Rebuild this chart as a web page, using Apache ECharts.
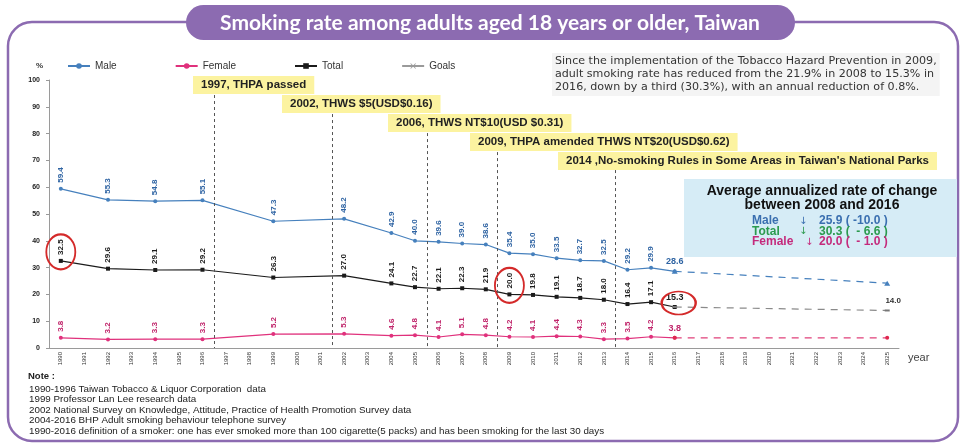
<!DOCTYPE html>
<html>
<head>
<meta charset="utf-8">
<script src="https://cdn.jsdelivr.net/npm/echarts@6/dist/echarts.min.js"></script>
<style>
  html, body { margin: 0; padding: 0; background: #fff; }
  #chart { width: 967px; height: 447px; }
</style>
</head>
<body>
<div id="chart"></div>
<script>
// Year categories on the x axis
const years = ['1990','1991','1992','1993','1994','1995','1996','1997','1998','1999',
  '2000','2001','2002','2003','2004','2005','2006','2007','2008','2009',
  '2010','2011','2012','2013','2014','2015','2016','2017','2018','2019',
  '2020','2021','2022','2023','2024','2025'];

// Survey years and observed smoking rates (%)
const surveyYears = ['1990','1992','1994','1996','1999','2002','2004','2005','2006','2007',
  '2008','2009','2010','2011','2012','2013','2014','2015','2016'];
const maleRate   = [59.4, 55.3, 54.8, 55.1, 47.3, 48.2, 42.9, 40.0, 39.6, 39.0,
  38.6, 35.4, 35.0, 33.5, 32.7, 32.5, 29.2, 29.9, 28.6];
const femaleRate = [3.8, 3.2, 3.3, 3.3, 5.2, 5.3, 4.6, 4.8, 4.1, 5.1,
  4.8, 4.2, 4.1, 4.4, 4.3, 3.3, 3.5, 4.2, 3.8];
const totalRate  = [32.5, 29.6, 29.1, 29.2, 26.3, 27.0, 24.1, 22.7, 22.1, 22.3,
  21.9, 20.0, 19.8, 19.1, 18.7, 18.0, 16.4, 17.1, 15.3];

// 2025 goals, drawn from the last survey year
const goalYears  = ['2016', '2025'];
const maleGoal   = [28.6, 24.2];
const totalGoal  = [15.3, 14.0];
const femaleGoal = [3.8, 3.8];

// Policy milestones (year the change took effect)
const eventYears = ['1997', '2002', '2006', '2009', '2014'];
const eventTexts = ['1997, THPA passed', '2002, THWS $5(USD$0.16)', '2006, THWS NT$10(USD $0.31)',
  '2009, THPA amended THWS NT$20(USD$0.62)', "2014 ,No-smoking Rules in Some Areas in Taiwan's National Parks"];
const eventLineTop = [94.4, 87.3, 80.2, 73.1, 66.4];

// Highlighted points on the total line
const circledYears = ['1990', '2009', '2016'];

const yTicks = [0, 10, 20, 30, 40, 50, 60, 70, 80, 90, 100];

const noteLines = [
  '1990-1996 Taiwan Tobacco & Liquor Corporation  data',
  '1999 Professor Lan Lee research data',
  '2002 National Survey on Knowledge, Attitude, Practice of Health Promotion Survey data',
  '2004-2016 BHP Adult smoking behaviour telephone survey',
  '1990-2016 definition of a smoker: one has ever smoked more than 100 cigarette(5 packs) and has been smoking for the last 30 days'
];

const COLORS = { male: '#4680bd', maleText: '#2f64a3', female: '#e0317c', femaleText: '#c0246a', total: '#1b1b1b', goal: '#9a9a9a' };
const PURPLE = '#8c6bb1';
const LABEL_FONT = '"Liberation Sans Narrow", "Liberation Sans", Arial, sans-serif';
const fmt1 = p => Number(p.value[1]).toFixed(1);

function seriesData(values, textColor) {
  return surveyYears.map((y, i) => {
    const item = { value: [y, values[i]] };
    if (y === '2016') {
      item.label = { rotate: 0, align: 'center', verticalAlign: 'bottom', distance: 3, fontSize: 9, color: textColor };
    }
    return item;
  });
}

function rotatedLabel(color) {
  return {
    show: true, rotate: 90, position: 'top', align: 'left', verticalAlign: 'middle',
    distance: 4, fontSize: 8, fontWeight: 'bold', color: color, fontFamily: LABEL_FONT,
    formatter: fmt1
  };
}

const crossIcon = 'path://M1,0L5,4L9,0L10,1L6,5L10,9L9,10L5,6L1,10L0,9L4,5L0,1Z';
const SANS = '"Liberation Sans", Arial, sans-serif';

const chart = echarts.init(document.getElementById('chart'), null, { renderer: 'canvas' });

const option = {
  backgroundColor: '#ffffff',
  animation: false,
  legend: {
    left: 62, top: 56, itemWidth: 22, itemHeight: 7, itemGap: 58,
    textStyle: { fontSize: 10, color: '#333', fontFamily: SANS },
    data: ['Male', 'Female', 'Total', 'Goals']
  },
  grid: { left: 49, right: 68, top: 80, bottom: 99, containLabel: false },
  xAxis: [{
    type: 'category', data: years, boundaryGap: true,
    name: 'year', nameLocation: 'end', nameGap: 9,
    nameTextStyle: { fontSize: 11, color: '#444', verticalAlign: 'top', padding: [4, 0, 0, 0] },
    axisLine: { lineStyle: { color: '#9a9a9a' } },
    axisTick: { length: 3, lineStyle: { color: '#9a9a9a' } },
    axisLabel: { rotate: 90, fontSize: 6, color: '#333', margin: 4, interval: 0 }
  }, {
    // helper axis for milestone lines on category boundaries
    type: 'value', min: 0, max: 36, show: false
  }],
  yAxis: {
    type: 'value', min: 0, max: 100, interval: 10,
    name: '%', nameLocation: 'end', nameGap: 10,
    nameTextStyle: { fontSize: 8, fontWeight: 'bold', color: '#333', align: 'right', padding: [0, 6, 0, 0] },
    axisLine: { show: true, lineStyle: { color: '#9a9a9a' } },
    axisTick: { show: true, length: 3, lineStyle: { color: '#9a9a9a' } },
    splitLine: { show: false },
    axisLabel: { fontSize: 7, fontWeight: 'bold', color: '#222', margin: 9,
      formatter: v => (yTicks.indexOf(v) >= 0 ? String(v) : '') }
  },
  series: [
    {
      name: 'Male', type: 'line', data: seriesData(maleRate, COLORS.maleText),
      symbol: 'circle', symbolSize: 4, z: 3,
      itemStyle: { color: COLORS.male }, lineStyle: { color: COLORS.male, width: 1.2 },
      label: rotatedLabel(COLORS.maleText)
    },
    {
      name: 'Female', type: 'line', data: seriesData(femaleRate, COLORS.femaleText),
      symbol: 'circle', symbolSize: 4, z: 3,
      itemStyle: { color: COLORS.female }, lineStyle: { color: COLORS.female, width: 1.2 },
      label: rotatedLabel(COLORS.femaleText)
    },
    {
      name: 'Total', type: 'line', data: seriesData(totalRate, COLORS.total),
      symbol: 'rect', symbolSize: 4, z: 3,
      itemStyle: { color: COLORS.total }, lineStyle: { color: COLORS.total, width: 1.2 },
      label: rotatedLabel(COLORS.total),
      markPoint: {
        symbol: 'circle', silent: true,
        itemStyle: { color: 'rgba(0,0,0,0)', borderColor: '#d42a2a', borderWidth: 2 },
        label: { show: false },
        data: circledYears.map(y => {
          const v = totalRate[surveyYears.indexOf(y)];
          return y === '2016'
            ? { coord: [y, v], symbolSize: [34, 23], symbolOffset: [4, -4] }
            : { coord: [y, v], symbolSize: [29, 35], symbolOffset: [0, -9] };
        })
      }
    },
    {
      // legend entry for the goal lines
      name: 'Goals', type: 'line', data: [], symbol: crossIcon, symbolSize: 7,
      itemStyle: { color: COLORS.goal }, lineStyle: { color: COLORS.goal, width: 1.2 }
    },
    {
      name: 'Goals', type: 'line', data: goalYears.map((y, i) => [y, maleGoal[i]]),
      symbol: 'triangle', symbolSize: [6, 5], showSymbol: true,
      itemStyle: { color: COLORS.male },
      lineStyle: { color: COLORS.male, width: 1.2, type: [7, 6] }
    },
    {
      name: 'Goals', type: 'line', data: goalYears.map((y, i) => [y, totalGoal[i]]),
      symbol: 'rect', symbolSize: [5, 2],
      itemStyle: { color: '#777' },
      lineStyle: { color: '#8a8a8a', width: 1.2, type: [7, 6] },
      label: {
        show: true, position: 'top', distance: 5, offset: [6, 0], fontSize: 8, fontWeight: 'bold', color: '#333',
        formatter: p => (p.dataIndex === goalYears.length - 1 ? fmt1(p) : '')
      }
    },
    {
      name: 'Goals', type: 'line', data: goalYears.map((y, i) => [y, femaleGoal[i]]),
      symbol: 'circle', symbolSize: 4,
      itemStyle: { color: '#e0284f' },
      lineStyle: { color: '#e0407a', width: 1.2, type: [7, 6] }
    },
    {
      // milestone markers, placed on the boundary before each year
      type: 'line', xAxisIndex: 1, data: [[0, null]], symbol: 'none', silent: true,
      markLine: {
        symbol: 'none', silent: true, label: { show: false },
        lineStyle: { color: '#555', width: 1, type: [3, 3] },
        data: eventYears.map((y, i) => [
          { coord: [years.indexOf(y), eventLineTop[i]] },
          { coord: [years.indexOf(y), 0] }
        ])
      }
    }
  ],
  graphic: {
    elements: [
      { type: 'rect', z: -10, shape: { x: 8, y: 22, width: 950, height: 419, r: 24 },
        style: { fill: '#fff', stroke: PURPLE, lineWidth: 2.5 } },
      { type: 'rect', z: 10, shape: { x: 186, y: 5, width: 609, height: 35, r: 17.5 },
        style: { fill: PURPLE } },
      { type: 'text', z: 11, x: 490, y: 23,
        style: { text: 'Smoking rate among adults aged 18 years or older, Taiwan', fill: '#fff',
          font: 'bold 21px Lato, "Open Sans", sans-serif', textAlign: 'center', textVerticalAlign: 'middle' } },
      { type: 'text', z: 10, x: 552, y: 53,
        style: { text: 'Since the implementation of the Tobacco Hazard Prevention in 2009,\nadult smoking rate has reduced from the 21.9% in 2008 to 15.3% in\n2016, down by a third (30.3%), with an annual reduction of 0.8%.',
          fill: '#333', font: '11.1px "DejaVu Sans", sans-serif', lineHeight: 13,
          backgroundColor: '#f4f4f4', padding: [2, 3] } },
      ...eventTexts.map((t, i) => ({
        type: 'text', z: 10,
        x: [193, 282, 388, 470, 558][i], y: [76, 95, 114, 133, 152][i],
        style: { text: t, fill: '#222', font: 'bold 11.5px ' + SANS,
          backgroundColor: '#fcf3a0', padding: [3, 8] }
      })),
      { type: 'rect', z: 10, shape: { x: 684, y: 179, width: 273, height: 78 },
        style: { fill: '#d6ecf6' } },
      { type: 'text', z: 11, x: 822, y: 198,
        style: { text: 'Average annualized rate of change\nbetween 2008 and 2016', fill: '#111',
          font: 'bold 14px ' + SANS, lineHeight: 14,
          textAlign: 'center', textVerticalAlign: 'middle' } },
      ...[
        ['Male', '25.9 ( -10.0 )', '#3a6fb0', 799],
        ['Total', '30.3 (  - 6.6 )', '#2b9a4e', 799],
        ['Female', '20.0 (  - 1.0 )', '#c42a7c', 805]
      ].flatMap((r, i) => [
        { type: 'text', z: 11, x: 752, y: 221 + i * 10.5,
          style: { text: r[0], fill: r[2], font: 'bold 12px ' + SANS, textVerticalAlign: 'middle' } },
        { type: 'text', z: 11, x: r[3], y: 221 + i * 10.5,
          style: { text: '\u2193', fill: r[2], font: '10px "DejaVu Sans", sans-serif', textVerticalAlign: 'middle' } },
        { type: 'text', z: 11, x: 819, y: 221 + i * 10.5,
          style: { text: r[1], fill: r[2], font: 'bold 12px ' + SANS, textVerticalAlign: 'middle' } }
      ]),
      { type: 'text', z: 10, x: 28, y: 376,
        style: { text: 'Note :', fill: '#222', font: 'bold 9.5px ' + SANS, textVerticalAlign: 'middle' } },
      { type: 'text', z: 10, x: 29, y: 383.7,
        style: { text: noteLines.join('\n'), fill: '#222', font: '9.8px ' + SANS, lineHeight: 10.5 } }
    ]
  }
};

chart.setOption(option);
</script>
</body>
</html>
